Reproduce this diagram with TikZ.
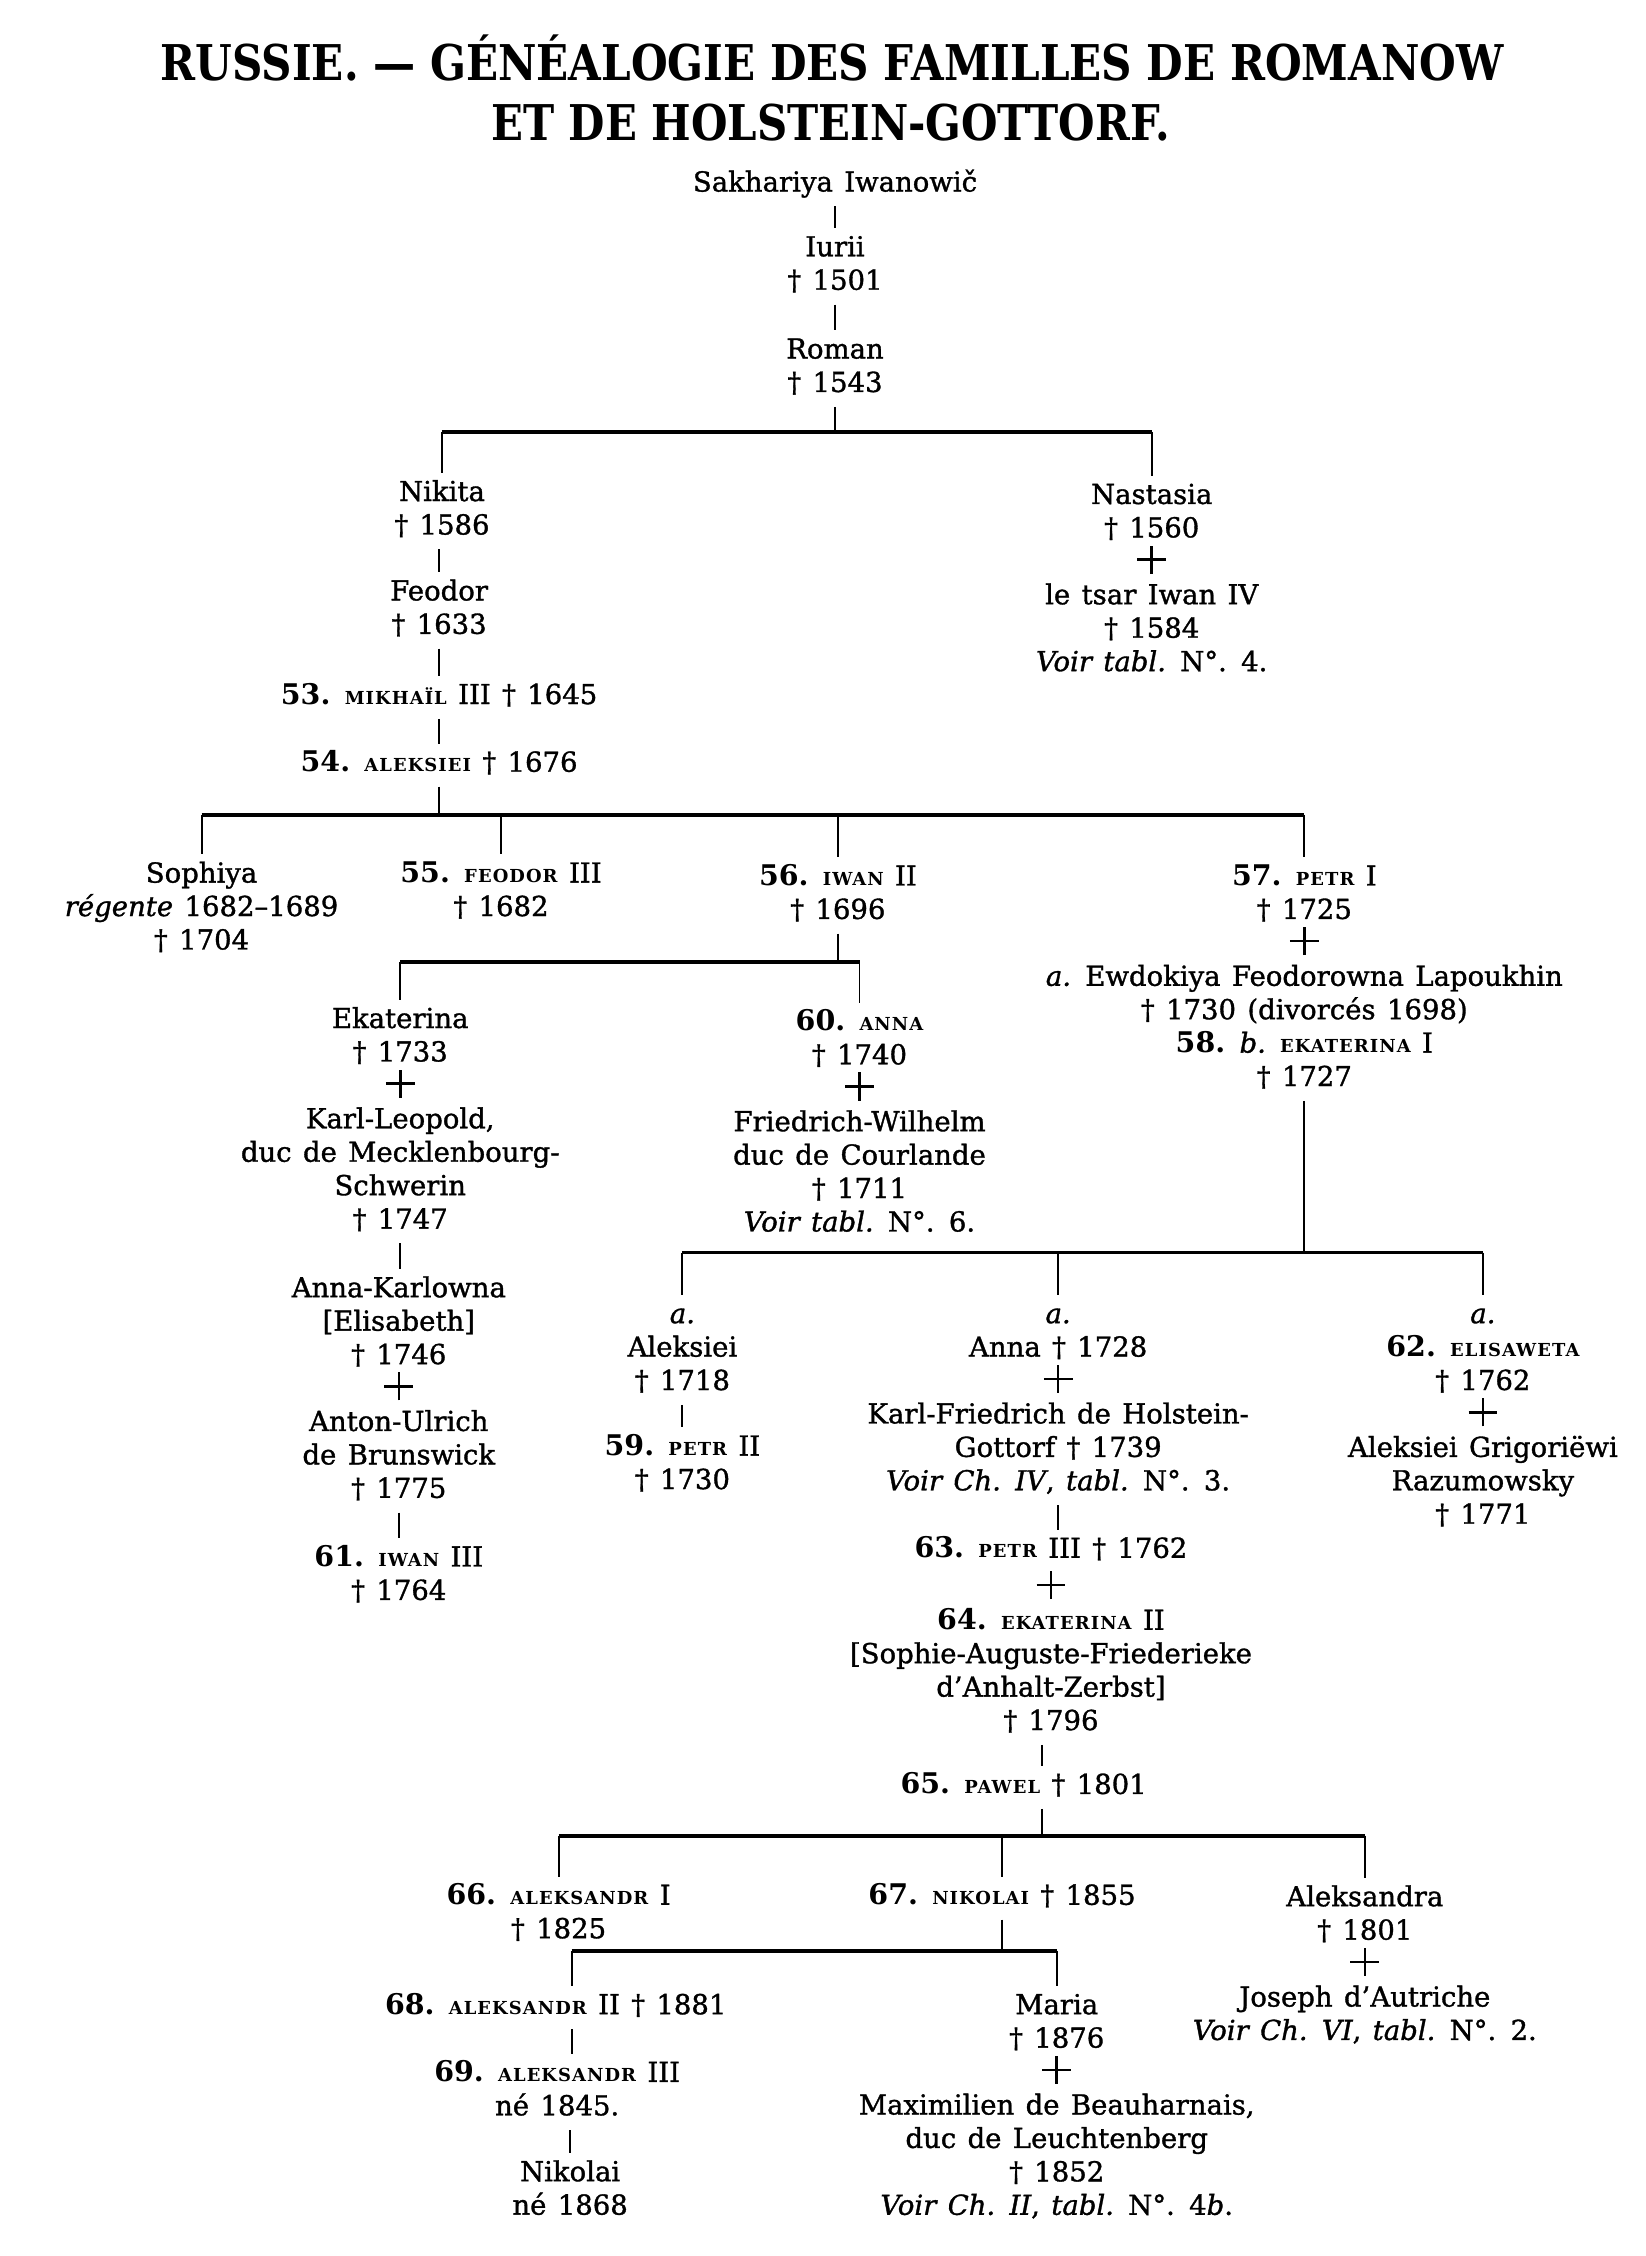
\documentclass[tikz,border=0pt]{standalone}
\usepackage{fontspec}
\setmainfont{DejaVu Serif}[WordSpace=1.3,UprightFeatures={FakeBold=1.2},ItalicFeatures={FakeBold=1.2}]
\newfontfamily\titlefont{DejaVu Serif}[UprightFont=*,BoldFont=* Bold]
\newcommand\knm[1]{{\fontsize{5.6}{10.45}\selectfont\bfseries\addfontfeature{LetterSpace=6}#1}}
\newcommand\numb[1]{{\fontsize{8.9}{10.45}\selectfont\bfseries #1}}
\newcommand\plusm{\makebox[9pt]{\rule[3.1pt]{9pt}{0.8pt}\hspace{-4.9pt}\rule[-0.9pt]{0.8pt}{8.8pt}\hspace{4.1pt}}}
\begin{document}
\begin{tikzpicture}[x=0.45pt,y=-0.45pt,
  fam/.style={align=center,anchor=north,inner sep=0pt,outer sep=1.5pt,yshift=6.1pt,font=\fontsize{8.6}{10.45}\selectfont},
  ttl/.style={inner sep=0pt,font=\titlefont\fontsize{15.4}{18}\selectfont\bfseries},
  gline/.style={line width=0.6pt},
  gbar/.style={line width=1.2pt}]
\useasboundingbox[fill=white] (0,0) rectangle (1143,1567);

% title
\node[ttl] (title1) at (578,40) {\scalebox{0.855}[1]{RUSSIE. — GÉNÉALOGIE DES FAMILLES DE ROMANOW}};
\node[ttl] (title2) at (577,85) {\scalebox{0.85}[1]{ET DE HOLSTEIN-GOTTORF.}};

% persons
\node[fam] (sakh) at (580,127) {\strut Sakhariya Iwanowič\strut};
\node[fam] (iurii) at (580,172) {\strut Iurii\\† 1501\strut};
\node[fam] (roman) at (580,243) {\strut Roman\\† 1543\strut};
\node[fam] (nikita) at (307,342) {\strut Nikita\\† 1586\strut};
\node[fam] (feodor) at (305,411) {\strut Feodor\\† 1633\strut};
\node[fam] (mikhail) at (305,483) {\strut\numb{53.} \knm{MIKHAÏL} III † 1645\strut};
\node[fam] (aleksiei) at (305,530) {\strut\numb{54.} \knm{ALEKSIEI} † 1676\strut};
\node[fam] (nastasia) at (800,344) {\strut Nastasia\\† 1560\\\plusm\\le tsar Iwan IV\\† 1584\\\textit{Voir tabl.} N°. 4.\strut};

\node[fam] (sophiya) at (140,607) {\strut Sophiya\\\textit{régente} 1682–1689\\† 1704\strut};
\node[fam] (feodor3) at (348,607) {\strut\numb{55.} \knm{FEODOR} III\\† 1682\strut};
\node[fam] (iwan2) at (582,609) {\strut\numb{56.} \knm{IWAN} II\\† 1696\strut};
\node[fam] (petr1) at (906,609) {\strut\numb{57.} \knm{PETR} I\\† 1725\\\plusm\\\textit{a.} Ewdokiya Feodorowna Lapoukhin\\† 1730 (divorcés 1698)\\\numb{58.} \textit{b.} \knm{EKATERINA} I\\† 1727\strut};

\node[fam] (ekaterina) at (278,708) {\strut Ekaterina\\† 1733\\\plusm\\Karl-Leopold,\\duc de Mecklenbourg-\\Schwerin\\† 1747\strut};
\node[fam] (annak) at (277,895) {\strut Anna-Karlowna\\{[}Elisabeth{]}\\† 1746\\\plusm\\Anton-Ulrich\\de Brunswick\\† 1775\strut};
\node[fam] (iwan3) at (277,1082) {\strut\numb{61.} \knm{IWAN} III\\† 1764\strut};
\node[fam] (anna60) at (597,710) {\strut\numb{60.} \knm{ANNA}\\† 1740\\\plusm\\Friedrich-Wilhelm\\duc de Courlande\\† 1711\\\textit{Voir tabl.} N°. 6.\strut};

\node[fam] (aleksei2) at (474,913) {\strut\textit{a.}\\Aleksiei\\† 1718\strut};
\node[fam] (petr2) at (474,1005) {\strut\numb{59.} \knm{PETR} II\\† 1730\strut};
\node[fam] (anna1728) at (735,913) {\strut\textit{a.}\\Anna † 1728\\\plusm\\Karl-Friedrich de Holstein-\\Gottorf † 1739\\\textit{Voir Ch. IV}, \textit{tabl.} N°. 3.\strut};
\node[fam] (petr3) at (730,1076) {\strut\numb{63.} \knm{PETR} III † 1762\\\plusm\\\numb{64.} \knm{EKATERINA} II\\{[}Sophie-Auguste-Friederieke\\d’Anhalt-Zerbst{]}\\† 1796\strut};
\node[fam] (elisaweta) at (1030,913) {\strut\textit{a.}\\\numb{62.} \knm{ELISAWETA}\\† 1762\\\plusm\\Aleksiei Grigoriëwi\\Razumowsky\\† 1771\strut};

\node[fam] (pawel) at (711,1240) {\strut\numb{65.} \knm{PAWEL} † 1801\strut};
\node[fam] (aleks1) at (388,1317) {\strut\numb{66.} \knm{ALEKSANDR} I\\† 1825\strut};
\node[fam] (nikolai1) at (696,1317) {\strut\numb{67.} \knm{NIKOLAI} † 1855\strut};
\node[fam] (aleksandra) at (948,1318) {\strut Aleksandra\\† 1801\\\plusm\\Joseph d’Autriche\\\textit{Voir Ch. VI}, \textit{tabl.} N°. 2.\strut};
\node[fam] (aleks2) at (386,1393) {\strut\numb{68.} \knm{ALEKSANDR} II † 1881\strut};
\node[fam] (aleks3) at (387,1440) {\strut\numb{69.} \knm{ALEKSANDR} III\\né 1845.\strut};
\node[fam] (nikolai2) at (396,1509) {\strut Nikolai\\né 1868\strut};
\node[fam] (maria) at (734,1393) {\strut Maria\\† 1876\\\plusm\\Maximilien de Beauharnais,\\duc de Leuchtenberg\\† 1852\\\textit{Voir Ch. II}, \textit{tabl.} N°. 4\textit{b}.\strut};

% connectors
\draw[gline] (sakh) -- (iurii);
\draw[gline] (iurii) -- (roman);

\coordinate (b1) at (580,300);
\draw[gline] (roman) -- (roman |- b1);
\draw[gbar] (nikita |- b1) -- (nastasia |- b1);
\draw[gline] (nikita |- b1) -- (nikita);
\draw[gline] (nastasia |- b1) -- (nastasia);

\draw[gline] (feodor |- nikita.south) -- (feodor);
\draw[gline] (feodor) -- (mikhail);
\draw[gline] (mikhail) -- (aleksiei);

\coordinate (b2) at (305,566);
\draw[gline] (aleksiei) -- (b2);
\draw[gbar] (sophiya |- b2) -- (petr1 |- b2);
\foreach \n in {sophiya,feodor3,iwan2,petr1} \draw[gline] (\n |- b2) -- (\n);

\coordinate (b3) at (582,668);
\draw[gline] (iwan2) -- (b3);
\draw[gbar] (ekaterina |- b3) -- (anna60 |- b3);
\draw[gline] (ekaterina |- b3) -- (ekaterina);
\draw[gline] (anna60 |- b3) -- (anna60);

\draw[gline] (ekaterina) -- (ekaterina |- annak.north);
\draw[gline] (annak) -- (annak |- iwan3.north);

\coordinate (b4) at (906,870);
\draw[gline] (petr1) -- (b4);
\draw[gbar] (aleksei2 |- b4) -- (elisaweta |- b4);
\foreach \n in {aleksei2,anna1728,elisaweta} \draw[gline] (\n |- b4) -- (\n);
\draw[gline] (aleksei2) -- (aleksei2 |- petr2.north);
\draw[gline] (anna1728) -- (anna1728 |- petr3.north);

\coordinate (c5) at (724,1275);
\draw[gline] (petr3.south -| c5) -- (pawel.north -| c5);
\draw[gline] (pawel.south -| c5) -- (c5);
\draw[gbar] (aleks1 |- c5) -- (aleksandra |- c5);
\foreach \n in {aleks1,nikolai1,aleksandra} \draw[gline] (\n |- c5) -- (\n);

\coordinate (b6) at (696,1355);
\coordinate (b6l) at (397,1355);
\draw[gline] (nikolai1) -- (b6);
\draw[gbar] (b6l) -- (maria |- b6);
\draw[gline] (b6l) -- (b6l |- aleks2.north);
\draw[gline] (maria |- b6) -- (maria);
\draw[gline] (aleks2.south -| b6l) -- (aleks3.north -| b6l);
\draw[gline] (aleks3.south -| nikolai2) -- (nikolai2);
\end{tikzpicture}
\end{document}
